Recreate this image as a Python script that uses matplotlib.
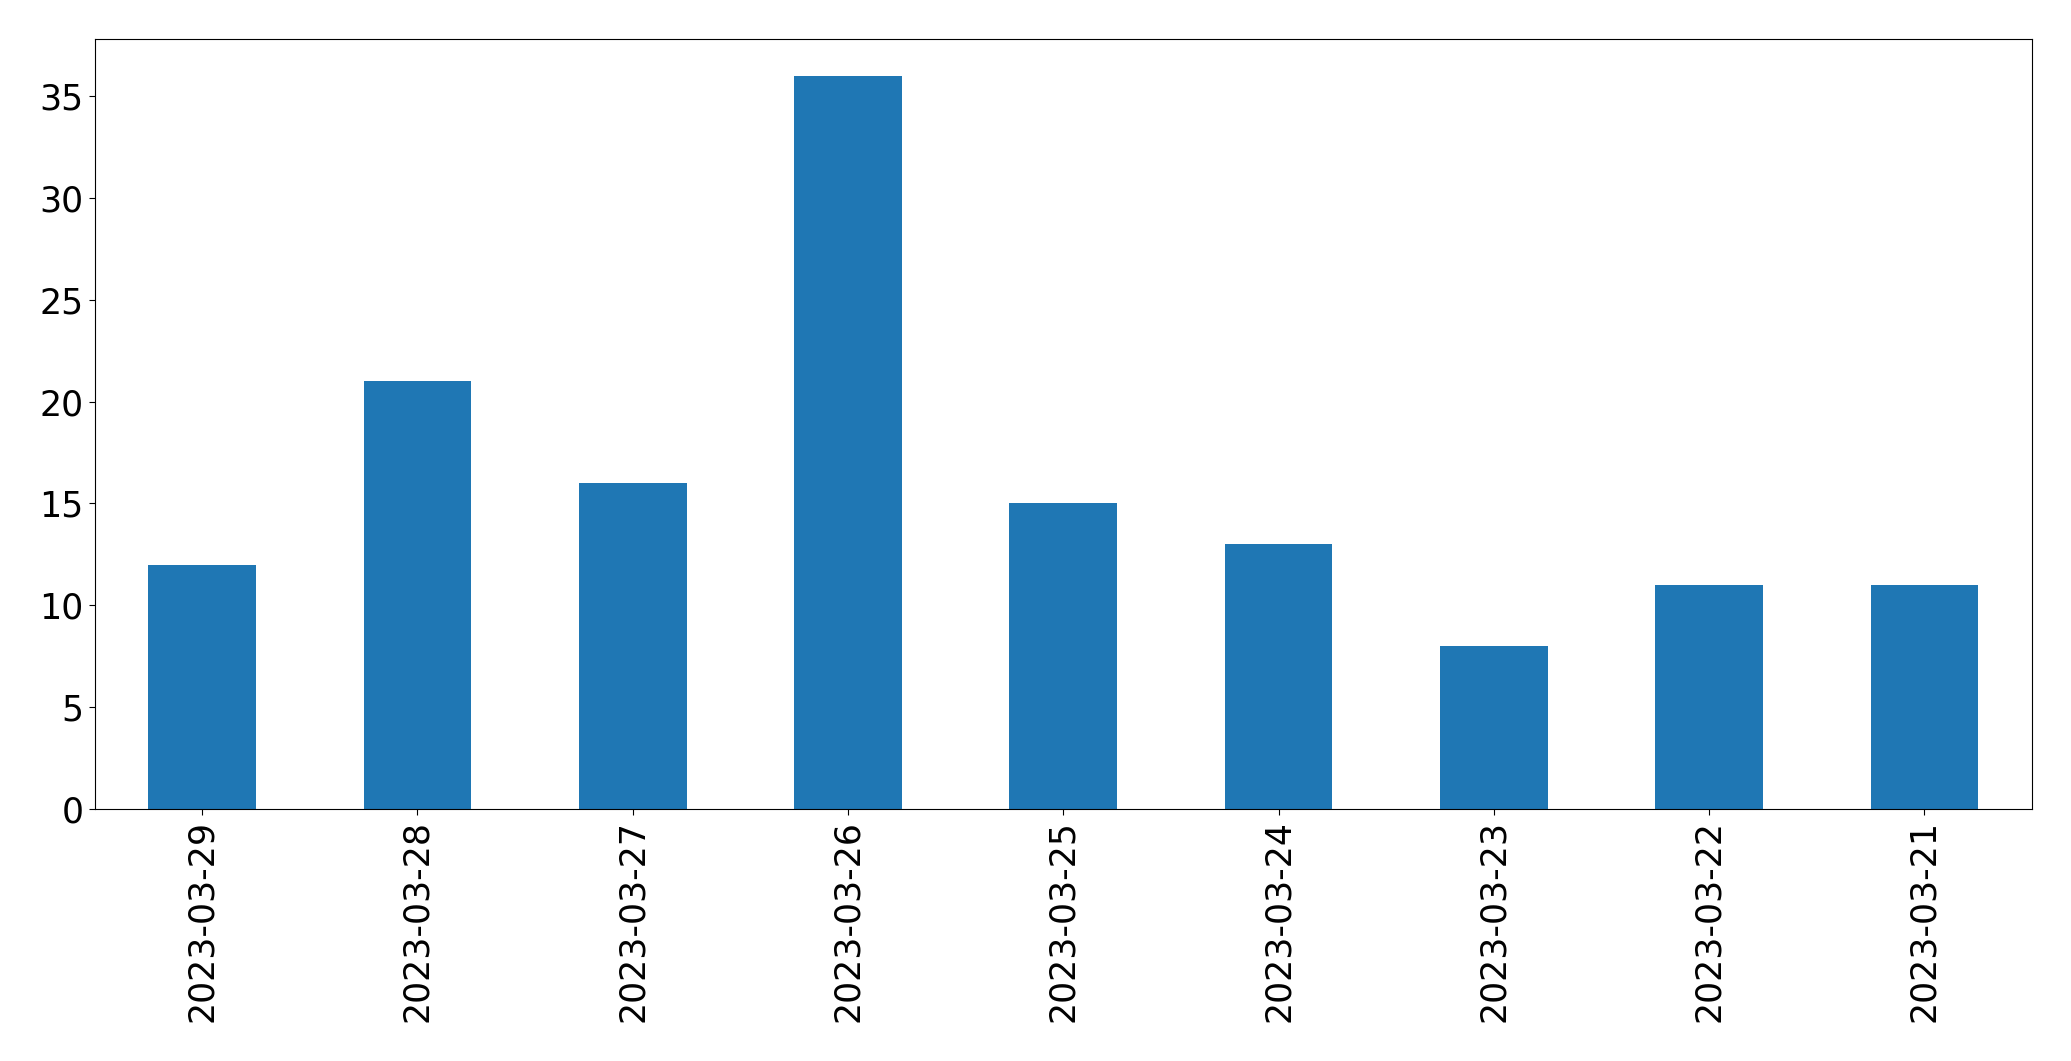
import matplotlib
matplotlib.use("Agg")
import matplotlib.pyplot as plt

dates = ["2023-03-29", "2023-03-28", "2023-03-27", "2023-03-26", "2023-03-25",
         "2023-03-24", "2023-03-23", "2023-03-22", "2023-03-21"]
counts = [12, 21, 16, 36, 15, 13, 8, 11, 11]

fig = plt.figure(figsize=(20.71, 10.61), dpi=100)
ax = fig.add_axes([94.5/2071, 252/1061, (2032-94.5)/2071, 770/1061])
x = list(range(len(dates)))
ax.bar(x, counts, width=0.5, color="#1f77b4")
ax.set_xlim(-0.5, len(dates) - 0.5)
ax.set_ylim(0, max(counts) * 1.05)
ax.set_xticks(x)
ax.set_xticklabels(dates, rotation=90)
ax.tick_params(axis="both", labelsize=25, length=4.5)
fig.savefig("out.png", dpi=100)
